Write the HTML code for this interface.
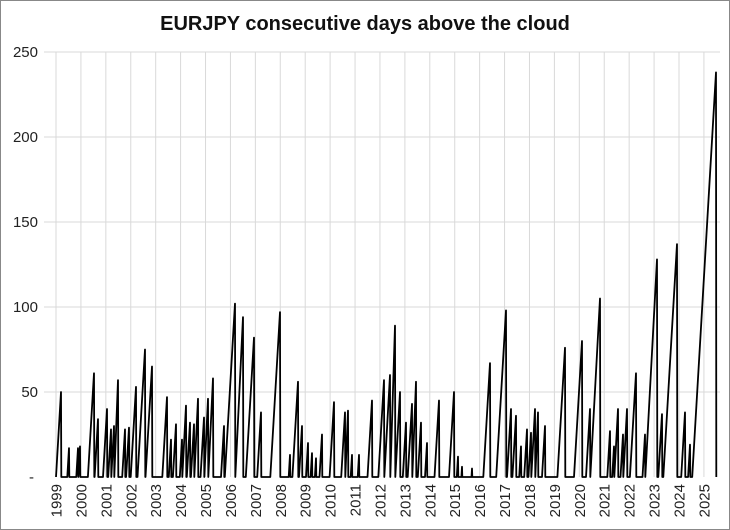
<!DOCTYPE html>
<html><head><meta charset="utf-8"><style>
html,body{margin:0;padding:0;background:#fff}
svg{display:block;font-family:"Liberation Sans",sans-serif}
</style></head><body>
<svg id="s" width="730" height="530" viewBox="0 0 730 530">
<rect x="0.5" y="0.5" width="729" height="529" fill="#fff" stroke="#888"/>
<text x="365" y="30" text-anchor="middle" font-size="20" font-weight="bold" fill="#111">EURJPY consecutive days above the cloud</text>
<g id="g"></g>
</svg>
<script>
var g=document.getElementById('g'),h='';
function Y(v){return 477-v*1.7;}
for(var i=0;i<=26;i++){var x=56+i*24.92;h+='<line x1="'+x+'" y1="52" x2="'+x+'" y2="477" stroke="#d9d9d9"/>';
h+='<text transform="translate('+(x+5.5)+',484) rotate(-90)" text-anchor="end" font-size="15" fill="#222">'+(1999+i)+'</text>';}
for(var v=50;v<=250;v+=50){h+='<line x1="44" y1="'+Y(v)+'" x2="720" y2="'+Y(v)+'" stroke="#d9d9d9"/>';
h+='<text x="38" y="'+(Y(v)+5)+'" text-anchor="end" font-size="15" fill="#222">'+v+'</text>';}
h+='<text x="34" y="482" text-anchor="end" font-size="15" fill="#222">-</text>';
var pk=[[61,50],[69,17],[78,17],[80,18],[94,61],[98,34],[107,40],[111,28],[114,30],[118,57],[125,28],[129,29],[136,53],[145,75],[152,65],[167,47],[171,22],[176,31],[182,22],[186,42],[190,32],[194,31],[198,46],[204,35],[208,46],[213,58],[224,30],[235,102],[243,94],[254,82],[261,38],[280,97],[290,13],[298,56],[302,30],[308,20],[312,14],[316,11],[322,25],[334,44],[345,38],[348,39],[352,13],[359,13],[372,45],[384,57],[390,60],[395,89],[400,50],[406,32],[412,43],[416,56],[421,32],[427,20],[439,45],[454,50],[458,12],[462,6],[472,5],[490,67],[506,98],[511,40],[516,36],[521,18],[527,28],[531,26],[535,40],[538,38],[545,30],[565,76],[582,80],[590,40],[600,105],[610,27],[614,18],[618,40],[623,25],[627,40],[636,61],[645,25],[657,128],[662,37],[677,137],[685,38],[690,19],[716,238]];
var pts=[[56,477]],k=0.1;
pk.forEach(function(p){var sx=p[0]-p[1]*k;var last=pts[pts.length-1][0];if(sx<last)sx=last;pts.push([sx,477]);pts.push([p[0],Y(p[1])]);pts.push([p[0]+0.3,477]);});
h+='<polyline fill="none" stroke="#000" stroke-width="1.8" stroke-linejoin="round" points="'+pts.map(function(p){return p[0].toFixed(1)+','+p[1].toFixed(1)}).join(' ')+'"/>';
g.innerHTML=h;
</script>
</body></html>
